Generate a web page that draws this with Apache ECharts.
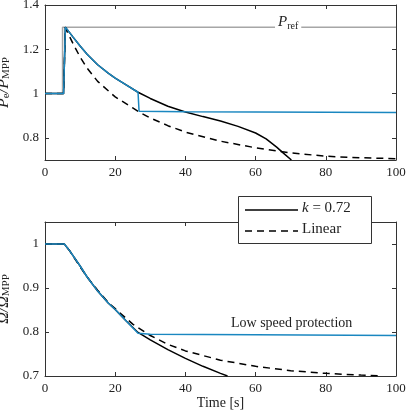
<!DOCTYPE html>
<html><head><meta charset="utf-8">
<script src="https://cdn.jsdelivr.net/npm/echarts@6/dist/echarts.min.js"></script>
<style>html,body{margin:0;padding:0;background:#fff}#c{width:407px;height:416px}</style>
</head><body><div id="c"></div>
<script>
const pRef = [[0,1],[5,1],[5,1.3],[100,1.3]];
const pProt = [[0,1],[5.3,1],[5.8,1.3],[6,1.295],[8,1.255],[10,1.215],[12,1.178],[15,1.13],[18,1.092],[20,1.07],[23,1.04],[26.5,1.006],[26.8,0.92],[40,0.918],[100,0.915]];
const pK = [[0,1],[5.3,1],[5.8,1.3],[6,1.295],[8,1.255],[10,1.215],[12,1.178],[15,1.13],[18,1.092],[20,1.07],[23,1.04],[26.5,1.006],[30,0.978],[35,0.943],[40,0.917],[45,0.896],[50,0.876],[55,0.852],[60,0.822],[63,0.795],[66,0.758],[68,0.73],[70.2,0.7]];
const pLin = [[0,1],[5.3,1],[5.8,1.3],[6,1.29],[8,1.225],[10,1.165],[12,1.115],[15,1.055],[20,0.985],[25,0.935],[27,0.915],[30,0.89],[35,0.855],[40,0.826],[50,0.785],[60,0.755],[70,0.732],[80,0.717],[90,0.71],[100,0.706]];
const wProt = [[0,1],[5.5,1],[7,0.985],[10,0.95],[12,0.925],[15,0.893],[18,0.866],[20,0.851],[23,0.826],[26.5,0.797],[30,0.795],[60,0.794],[100,0.792]];
const wK = [[0,1],[5.5,1],[7,0.985],[10,0.95],[12,0.925],[15,0.893],[18,0.866],[20,0.851],[23,0.826],[26.5,0.799],[30,0.782],[35,0.76],[40,0.74],[45,0.722],[50,0.706],[52,0.7]];
const wLin = [[0,1],[5.5,1],[7,0.985],[10,0.948],[12,0.925],[15,0.895],[18,0.867],[20,0.853],[25,0.818],[30,0.792],[35,0.772],[40,0.757],[50,0.736],[60,0.722],[70,0.712],[80,0.706],[90,0.702],[96,0.7]];
const pTicks = [0.8,1,1.2,1.4];
const wTicks = [0.7,0.8,0.9,1];

const F = 'Liberation Serif, DejaVu Serif, serif';
const BLUE = '#1a87c0';
const chart = echarts.init(document.getElementById('c'));
function xa(i,top,lab){return {type:'value',gridIndex:i,min:0,max:100,interval:20,position:top?'top':'bottom',
 axisLine:{show:true,onZero:false,lineStyle:{color:'#333'}},axisTick:{inside:true,length:4,lineStyle:{color:'#333'}},
 axisLabel:{show:!top,color:'#222',fontFamily:F,fontSize:13,margin:6},splitLine:{show:false},
 name:(lab&&!top)?'Time [s]':'',nameLocation:'middle',nameGap:20,nameTextStyle:{fontFamily:F,fontSize:14,color:'#222'}};}
function ya(i,right,min,max,ticks,name,rich){return {type:'value',gridIndex:i,min:min,max:max,position:right?'right':'left',
 axisLine:{show:true,onZero:false,lineStyle:{color:'#333'}},axisTick:{inside:true,length:4,customValues:ticks,lineStyle:{color:'#333'}},
 axisLabel:{show:!right,customValues:ticks,color:'#222',fontFamily:F,fontSize:13,margin:6,formatter:v=>(Math.abs(v-Math.round(v))<1e-9?String(Math.round(v)):(+v.toFixed(2)).toString())},
 splitLine:{show:false},name:right?'':name,nameLocation:'middle',nameGap:28,nameRotate:90,
 nameTextStyle:{fontFamily:F,fontSize:15,color:'#222',rich:rich}};}
const rich={i:{fontFamily:F,fontStyle:'italic',fontSize:16,color:'#222'},s:{fontFamily:F,fontSize:11,color:'#222',verticalAlign:'bottom',padding:[6,0,0,0]}};
function line(name,data,x,y,color,dash,w){return {name:name,type:'line',xAxisIndex:x,yAxisIndex:y,data:data,showSymbol:false,symbol:'none',
 lineStyle:{color:color,width:w||1.5,type:dash?[7,5]:'solid'},itemStyle:{color:color},animation:false,clip:true};}
chart.setOption({
 animation:false,
 grid:[{left:45,right:11,top:5,height:155,outerBoundsMode:'none'},{left:45,right:11,top:222,height:154,outerBoundsMode:'none'}],
 xAxis:[xa(0,false,false),xa(0,true),xa(1,false,true),xa(1,true)],
 yAxis:[ya(0,false,0.7,1.4,pTicks,'{i|P}{s|e}{i|/P}{s|MPP}',rich),ya(0,true,0.7,1.4,pTicks),
        ya(1,false,0.7,1.05,wTicks,'{i|Ω/Ω}{s|MPP}',rich),ya(1,true,0.7,1.05,wTicks)],
 graphic:[
  {type:'text',left:275,top:13,style:{text:'{i|P}{s|ref}',rich:{i:{fontFamily:F,fontStyle:'italic',fontSize:15,fill:'#222'},s:{fontFamily:F,fontSize:10,fill:'#222',padding:[8,0,0,0]}},backgroundColor:'#fff',padding:[0,3]},z:10},
  {type:'text',left:231,top:316,style:{text:'Low speed protection',font:'14px '+F,fill:'#222'},z:10},
  {type:'rect',shape:{x:238.5,y:196.5,width:133,height:47},style:{fill:'#fff',stroke:'#333',lineWidth:1},z:20},
  {type:'line',shape:{x1:245,y1:210,x2:298,y2:210},style:{stroke:'#000',lineWidth:1.5},z:21},
  {type:'line',shape:{x1:245,y1:231,x2:298,y2:231},style:{stroke:'#000',lineWidth:1.5,lineDash:[7,5]},z:21},
  {type:'text',left:302,top:201,style:{text:'{i|k} = 0.72',rich:{i:{fontFamily:F,fontStyle:'italic',fontSize:15,fill:'#222'}},font:'15px '+F,fill:'#222'},z:21},
  {type:'text',left:302,top:222,style:{text:'Linear',font:'15px '+F,fill:'#222'},z:21}
 ],
 series:[
  line('ref',pRef,0,0,'#a6a6a6',false,1.5),
  line('Linear',pLin,0,0,'#000',true),
  line('k = 0.72',pK,0,0,'#000',false),
  line('prot',pProt,0,0,BLUE,false),
  line('Linear',wLin,2,2,'#000',true),
  line('k = 0.72',wK,2,2,'#000',false),
  line('prot',wProt,2,2,BLUE,false)
 ]
});
</script></body></html>
